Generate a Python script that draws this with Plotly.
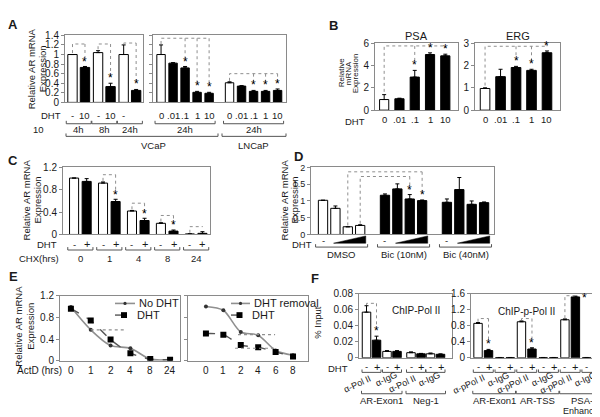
import plotly.graph_objects as go

# ---------------- data ----------------
# A left: VCaP time course
a1_time = ["4h", "8h", "24h"]
a1_dht = ["-", "10", "-", "10", "-", ""]
a1_val = [1.00, 0.73, 1.04, 0.33, 1.00, 0.25]
a1_err = [0.00, 0.02, 0.04, 0.07, 0.20, 0.02]
# A right: 24h dose response
a2_dose = ["0", ".01", ".1", "1", "10"]
a2_vcap_val = [1.00, 0.82, 0.72, 0.21, 0.19]
a2_vcap_err = [0.20, 0.01, 0.03, 0.02, 0.02]
a2_lncap_val = [0.41, 0.34, 0.23, 0.23, 0.25]
a2_lncap_err = [0.02, 0.01, 0.02, 0.02, 0.03]
a_ticks = [0, 0.2, 0.4, 0.6, 0.8, 1.0, 1.2, 1.4]
a_ticktext = ["0", "0.2", "0.4", "0.6", "0.8", "1", "1.2", "1.4"]

# B
b_dose = ["0", ".01", ".1", "1", "10"]
psa_val = [0.95, 1.02, 2.96, 4.98, 4.86]
psa_err = [0.44, 0.05, 0.60, 0.15, 0.15]
erg_val = [0.97, 1.50, 1.91, 1.78, 2.57]
erg_err = [0.03, 0.33, 0.05, 0.05, 0.08]

# C
c_chx = ["0", "1", "4", "8", "24"]
c_minus_val = [1.01, 0.92, 0.42, 0.20, 0.01]
c_minus_err = [0.00, 0.02, 0.01, 0.01, 0.00]
c_plus_val = [0.95, 0.59, 0.25, 0.06, 0.02]
c_plus_err = [0.05, 0.04, 0.04, 0.02, 0.03]

# D
d_groups = ["DMSO", "Bic (10nM)", "Bic (40nM)"]
d_val = [[1.02, 0.78, 0.23, 0.27], [1.17, 1.36, 1.06, 1.01], [0.96, 1.34, 0.90, 0.95]]
d_err = [[0.00, 0.07, 0.00, 0.02], [0.04, 0.15, 0.13, 0.02], [0.10, 0.36, 0.10, 0.02]]

# E
e1_time = ["0", "1", "2", "4", "8", "24"]
e1_nodht = [0.99, 0.57, 0.28, 0.23, 0.03, 0.02]
e1_dht = [0.96, 0.74, 0.39, 0.14, 0.03, 0.02]
e2_time = ["0", "1", "2", "4", "6", "8"]
e2_removal = [1.00, 0.93, 0.53, 0.47, 0.19, 0.10]
e2_dht = [0.50, 0.48, 0.29, 0.25, 0.16, 0.08]
e1_half = [0.57]
e2_half = [0.48, 0.23]

# F
f1_val = [0.057, 0.022, 0.008, 0.008, 0.0064, 0.005, 0.005, 0.0044]
f1_err = [0.008, 0.005, 0.001, 0.001, 0.001, 0.0005, 0.001, 0.0005]
f1_ab = ["α-Pol II", "α-IgG", "α-Pol II", "α-IgG"]
f1_genes = ["AR-Exon1", "Neg-1"]
f2_val = [0.86, 0.18, 0.008, 0.008, 0.90, 0.22, 0.008, 0.008, 0.95, 1.52, 0.008, 0.008]
f2_err = [0.02, 0.03, 0, 0, 0.02, 0.03, 0, 0, 0.02, 0.02, 0, 0]
f2_ab = ["α-pPol II", "α-IgG", "α-pPol II", "α-IgG", "α-pPol II", "α-IgG"]
f2_genes = ["AR-Exon1", "AR-TSS", "PSA-"]

# ---------------- helpers ----------------
W, H = 600, 417
FONT = "Liberation Sans, Arial, Helvetica, sans-serif"
BOX = "#8a8a8a"
DOT = "#8f8f8f"
INK = "#000000"
FS = 9.5

fig = go.Figure()
ann = []
shp = []
_n = [0]


def X(p):
    return p / W


def Y(p):
    return 1 - p / H


def axes(x0, x1, y0, y1, xr, yr, tv, tt=None, tsize=10):
    _n[0] += 1
    s = "" if _n[0] == 1 else str(_n[0])
    xid, yid = "x" + s, "y" + s
    fig.layout["xaxis" + s] = dict(domain=[X(x0), X(x1)], range=xr, anchor=yid, showgrid=False,
                                   zeroline=False, showline=True, mirror=True, linecolor=BOX,
                                   linewidth=1, ticks="", showticklabels=False, fixedrange=True)
    fig.layout["yaxis" + s] = dict(domain=[Y(y1), Y(y0)], range=yr, anchor=xid, showgrid=False,
                                   zeroline=False, showline=True, mirror=True, linecolor=BOX,
                                   linewidth=1, ticks="outside", ticklen=3, tickwidth=1,
                                   tickcolor=BOX, tickvals=tv, ticktext=tt,
                                   showticklabels=tt is not None,
                                   tickfont=dict(size=tsize, family=FONT, color="#1a1a1a"),
                                   fixedrange=True)
    return xid, yid


def T(x, y, s, size=FS, xref="paper", anchor="center", angle=0, bold=False, xshift=0):
    if bold:
        s = "<b>" + s + "</b>"
    ann.append(dict(x=X(x) if xref == "paper" else x, y=Y(y), xref=xref, yref="paper", text=s,
                    showarrow=False, font=dict(size=size, family=FONT, color="#1a1a1a"),
                    xanchor=anchor, yanchor="middle", textangle=angle, xshift=xshift))


def star(xid, yid, x, y):
    ann.append(dict(x=x, y=y, xref=xid, yref=yid, text="*", showarrow=False,
                    font=dict(size=12, family=FONT, color=INK), xanchor="center",
                    yanchor="bottom", yshift=-5))


def bars(xid, yid, xs, vals, errs, colors, width):
    fig.add_trace(go.Bar(x=xs, y=vals, width=width, xaxis=xid, yaxis=yid,
                         marker=dict(color=colors, line=dict(color="black", width=1)),
                         error_y=dict(type="data", array=errs, arrayminus=[0] * len(errs),
                                      symmetric=False, color="black", thickness=1, width=2),
                         showlegend=False, hoverinfo="skip"))


def sig(xid, yid, x0, y0, top, targets):
    xs = [x0, x0, max(t[0] for t in targets), None]
    ys = [y0, top, top, None]
    for xt, yt in targets:
        xs += [xt, xt, None]
        ys += [top, yt, None]
    fig.add_trace(go.Scatter(x=xs, y=ys, xaxis=xid, yaxis=yid, mode="lines",
                             line=dict(color=DOT, width=1, dash="dot"), showlegend=False,
                             hoverinfo="skip"))


def bracket(xref, xa, xb, ypx, h=3):
    xa_ = X(xa) if xref == "paper" else xa
    xb_ = X(xb) if xref == "paper" else xb
    shp.append(dict(type="path", xref=xref, yref="paper",
                    path=f"M{xa_},{Y(ypx - h)} L{xa_},{Y(ypx)} L{xb_},{Y(ypx)} L{xb_},{Y(ypx - h)}",
                    line=dict(color="#555", width=1)))


def ylab(x, y, s, size=FS):
    T(x, y, s, size=size, angle=-90)


# ---------------- panel A ----------------
T(5, 11, "A", size=13, bold=True)
a1_x = [i * 2.05 + j for i in range(3) for j in range(2)]
xa1, ya1 = axes(57, 135, 22, 91, [-0.6, 5.65], [0, 1.4], a_ticks, a_ticktext)
bars(xa1, ya1, a1_x, a1_val, a1_err, ["white", "black"] * 3, 0.75)
for i in range(3):
    w, b = 2 * i, 2 * i + 1
    top = max(1.22, a1_val[w] + a1_err[w] + 0.04)
    sig(xa1, ya1, a1_x[w], a1_val[w] + a1_err[w] + 0.03, top,
        [(a1_x[b], a1_val[b] + a1_err[b] + 0.14)])
    star(xa1, ya1, a1_x[b], a1_val[b] + a1_err[b] + 0.02)
    T((a1_x[w] + a1_x[b]) / 2, 119, a1_time[i], xref=xa1)
    bracket(xa1, a1_x[w] - 0.5, a1_x[b] + 0.5, 113)
for k, t in enumerate(a1_dht):
    T(a1_x[k], 105, t, xref=xa1)
T(43, 105, "DHT")
T(30, 119, "10")
ylab(23, 57, "Relative AR mRNA")
ylab(34, 57, "Expression")

a2_x = [k for k in range(5)] + [5.7 + k for k in range(5)]
xa2, ya2 = axes(145, 278, 22, 91, [-0.67, 10.4], [0, 1.4], a_ticks, None)
bars(xa2, ya2, a2_x, a2_vcap_val + a2_lncap_val, a2_vcap_err + a2_lncap_err,
     (["white"] + ["black"] * 4) * 2, 0.7)
sig(xa2, ya2, a2_x[0], a2_vcap_val[0] + a2_vcap_err[0] + 0.02, 1.34,
    [(a2_x[k], a2_vcap_val[k] + a2_vcap_err[k] + 0.14) for k in (2, 3, 4)])
sig(xa2, ya2, a2_x[5], a2_lncap_val[0] + a2_lncap_err[0] + 0.02, 0.6,
    [(a2_x[5 + k], a2_lncap_val[k] + a2_lncap_err[k] + 0.14) for k in (2, 3, 4)])
for k in (2, 3, 4):
    star(xa2, ya2, a2_x[k], a2_vcap_val[k] + a2_vcap_err[k] + 0.02)
    star(xa2, ya2, a2_x[5 + k], a2_lncap_val[k] + a2_lncap_err[k] + 0.02)
for k in range(5):
    T(a2_x[k], 104, a2_dose[k], xref=xa2)
    T(a2_x[5 + k], 104, a2_dose[k], xref=xa2)
T(a2_x[2], 119, "24h", xref=xa2)
T(a2_x[7], 119, "24h", xref=xa2)
bracket(xa2, a2_x[0] - 0.5, a2_x[4] + 0.5, 113)
bracket(xa2, a2_x[5] - 0.5, a2_x[9] + 0.5, 113)
bracket("paper", 58, 210, 126)
bracket("paper", 214, 278, 126)
T(145, 135, "VCaP")
T(246, 135, "LNCaP")

# ---------------- panel B ----------------
T(325, 12, "B", size=13, bold=True)
b_x = list(range(5))
b_cols = ["white"] + ["black"] * 4
xb1, yb1 = axes(367, 450, 30, 99, [-0.6, 4.83], [0, 6], [0, 2, 4, 6], ["0", "2", "4", "6"])
bars(xb1, yb1, b_x, psa_val, psa_err, b_cols, 0.6)
sig(xb1, yb1, 0, psa_val[0] + psa_err[0] + 0.25, 5.75,
    [(k, psa_val[k] + psa_err[k] + 0.55) for k in (2, 3, 4)])
xb2, yb2 = axes(467, 552, 30, 99, [-0.65, 4.84], [0, 3], [0, 1, 2, 3], ["0", "1", "2", "3"])
bars(xb2, yb2, b_x, erg_val, erg_err, b_cols, 0.62)
sig(xb2, yb2, 0, erg_val[0] + erg_err[0] + 0.1, 2.86,
    [(k, erg_val[k] + erg_err[k] + 0.27) for k in (2, 3, 4)])
for k in (2, 3, 4):
    star(xb1, yb1, k, psa_val[k] + psa_err[k] + 0.1)
    star(xb2, yb2, k, erg_val[k] + erg_err[k] + 0.05)
for k in range(5):
    T(b_x[k], 109, b_dose[k], xref=xb1)
    T(b_x[k], 109, b_dose[k], xref=xb2)
T(347, 111, "DHT")
T(408, 23, "PSA", size=11)
T(510, 23, "ERG", size=11)
ylab(333, 61, "Relative", size=8)
ylab(340, 61, "mRNA", size=8)
ylab(347, 61, "Expression", size=8)

# ---------------- panel C ----------------
T(5, 151, "C", size=13, bold=True)
c_x = [i * 2.3 + j for i in range(5) for j in range(2)]
c_vals, c_errs = [], []
for i in range(5):
    c_vals += [c_minus_val[i], c_plus_val[i]]
    c_errs += [c_minus_err[i], c_plus_err[i]]
xc, yc = axes(55, 202, 158, 227, [-0.88, 10.8], [0, 1.2], [0, 0.4, 0.8, 1.2],
              ["0", "0.4", "0.8", "1.2"])
bars(xc, yc, c_x, c_vals, c_errs, ["white", "black"] * 5, 0.72)
for i in range(1, 5):
    w, b = 2 * i, 2 * i + 1
    sig(xc, yc, c_x[w], c_vals[w] + c_errs[w] + 0.02, c_vals[w] + c_errs[w] + 0.13,
        [(c_x[b], c_vals[b] + c_errs[b] + 0.1)])
    if i < 4:
        star(xc, yc, c_x[b], c_vals[b] + c_errs[b] + 0.01)
for i in range(5):
    T(c_x[2 * i], 237, "-", xref=xc)
    T(c_x[2 * i + 1], 237, "+", xref=xc, size=11)
    bracket(xc, c_x[2 * i] - 0.5, c_x[2 * i + 1] + 0.5, 243)
    T((c_x[2 * i] + c_x[2 * i + 1]) / 2, 252, c_chx[i], xref=xc)
T(39, 237, "DHT")
T(31, 252, "CHX(hrs)")
ylab(18, 192, "Relative AR mRNA")
ylab(29, 192, "Expression")

# ---------------- panel D ----------------
T(290, 147, "D", size=13, bold=True)
d_x = [i * 5 + j for i in range(3) for j in range(4)]
d_vals = [v for g in d_val for v in g]
d_errs = [v for g in d_err for v in g]
xd, yd = axes(303, 486, 158, 227, [-0.97, 13.8], [0, 2], [0, 0.5, 1, 1.5, 2],
              ["0", "0.5", "1", "1.5", "2"], tsize=9)
bars(xd, yd, d_x, d_vals, d_errs, ["white"] * 4 + ["black"] * 8, 0.75)
sig(xd, yd, d_x[2], d_vals[2] + 0.04, 1.87, [(d_x[7], d_vals[7] + d_errs[7] + 0.14)])
sig(xd, yd, d_x[3], d_vals[3] + d_errs[3] + 0.03, 1.73, [(d_x[6], d_vals[6] + d_errs[6] + 0.14)])
star(xd, yd, d_x[6], d_vals[6] + d_errs[6] + 0.02)
star(xd, yd, d_x[7], d_vals[7] + d_errs[7] + 0.02)
for i in range(3):
    b0 = i * 4
    T(d_x[b0], 233, "-", xref=xd)
    xa_, xb_ = d_x[b0 + 1] - 0.15, d_x[b0 + 3] + 0.45
    shp.append(dict(type="path", xref=xd, yref="paper",
                    path=f"M{xa_},{Y(236)} L{xb_},{Y(228.5)} L{xb_},{Y(236)} Z",
                    fillcolor="black", line=dict(color="black", width=0.5)))
    bracket(xd, d_x[b0] - 0.6, d_x[b0 + 3] + 0.6, 240)
    T((d_x[b0] + d_x[b0 + 3]) / 2, 248, d_groups[i], xref=xd)
T(294, 237, "DHT")
ylab(276, 192, "Relative AR mRNA")
ylab(286, 192, "Expression")

# ---------------- panel E ----------------
T(5, 270, "E", size=13, bold=True)
e_ticks = [0, 0.4, 0.8, 1.2]
xe1, ye1 = axes(52, 172, 290, 357, [-0.55, 5.5], [0, 1.2], e_ticks, ["0", "0.4", "0.8", "1.2"])
xe2, ye2 = axes(180, 300, 290, 357, [-1.03, 5.86], [0, 1.2], e_ticks, None)
for xid, yid, s_solid, s_dash in ((xe1, ye1, e1_nodht, e1_dht), (xe2, ye2, e2_removal, e2_dht)):
    xs = list(range(len(s_solid)))
    fig.add_trace(go.Scatter(x=xs, y=s_solid, xaxis=xid, yaxis=yid, mode="lines+markers",
                             line=dict(color="#909090", width=1.6, shape="spline", smoothing=0.8),
                             marker=dict(size=4, color="#333"), showlegend=False, hoverinfo="skip"))
    fig.add_trace(go.Scatter(x=xs, y=s_dash, xaxis=xid, yaxis=yid, mode="lines+markers",
                             line=dict(color="#555", width=1.4, dash="dash", shape="spline",
                                       smoothing=0.8),
                             marker=dict(size=6, color="black", symbol="square"),
                             showlegend=False, hoverinfo="skip"))
shp.append(dict(type="line", xref=xe1, yref=ye1, x0=1, x1=2.75, y0=e1_half[0], y1=e1_half[0],
                line=dict(color=DOT, width=1.2, dash="dot")))
shp.append(dict(type="line", xref=xe2, yref=ye2, x0=1.84, x1=3.97, y0=e2_half[0], y1=e2_half[0],
                line=dict(color=DOT, width=1.2, dash="dot")))
shp.append(dict(type="line", xref=xe2, yref=ye2, x0=1.67, x1=4.0, y0=e2_half[1], y1=e2_half[1],
                line=dict(color=DOT, width=1.2, dash="dot")))
for k in range(6):
    T(k, 367, e1_time[k], xref=xe1, size=10)
    T(k, 367, e2_time[k], xref=xe2, size=10)
T(31, 367, "ActD (hrs)", size=10)
ylab(11, 322, "Relative AR mRNA")
ylab(23, 322, "Expression")


def legend_item(x0, x1, y, label, solid):
    cx = (x0 + x1) / 2
    if solid:
        shp.append(dict(type="line", xref="paper", yref="paper", x0=X(x0), x1=X(x1), y0=Y(y), y1=Y(y),
                        line=dict(color="#909090", width=1.6)))
        shp.append(dict(type="circle", xref="paper", yref="paper", x0=X(cx - 1.6), x1=X(cx + 1.6),
                        y0=Y(y + 1.6), y1=Y(y - 1.6), fillcolor="#333", line=dict(width=0)))
    else:
        shp.append(dict(type="line", xref="paper", yref="paper", x0=X(x0), x1=X(x1), y0=Y(y), y1=Y(y),
                        line=dict(color="#555", width=1.4, dash="dash")))
        shp.append(dict(type="rect", xref="paper", yref="paper", x0=X(cx - 3), x1=X(cx + 3),
                        y0=Y(y + 3), y1=Y(y - 3), fillcolor="black", line=dict(width=0)))
    T(x1 + 1.5, y, label, size=11, anchor="left")


legend_item(107, 127, 298, "No DHT", True)
legend_item(107, 125, 310, "DHT", False)
legend_item(223, 242, 298, "DHT removal", True)
legend_item(223, 240, 310, "DHT", False)

# ---------------- panel F ----------------
T(307, 272, "F", size=13, bold=True)
f1_off = [0, 2.05, 4.45, 6.4]
f1_x = [o + j for o in f1_off for j in range(2)]
xf1, yf1 = axes(351, 444, 288, 354, [-0.75, 8.55], [0, 0.08], [0, 0.02, 0.04, 0.06, 0.08],
                ["0", "0.02", "0.04", "0.06", "0.08"])
bars(xf1, yf1, f1_x, f1_val, f1_err, ["white", "black"] * 4, 0.85)
sig(xf1, yf1, f1_x[0], f1_val[0] + f1_err[0] + 0.001, 0.068,
    [(f1_x[1], f1_val[1] + f1_err[1] + 0.009)])
star(xf1, yf1, f1_x[1], f1_val[1] + f1_err[1] + 0.001)

f2_off = [k * 2.07 for k in range(6)]
f2_x = [o + j for o in f2_off for j in range(2)]
xf2, yf2 = axes(463, 597, 288, 354, [-0.67, 12.1], [0, 1.6], [0, 0.4, 0.8, 1.2, 1.6],
                ["0", "0.4", "0.8", "1.2", "1.6"])
bars(xf2, yf2, f2_x, f2_val, f2_err, ["white", "black"] * 6, 0.8)
for p in (0, 2):
    w, b = 2 * p, 2 * p + 1
    sig(xf2, yf2, f2_x[w], f2_val[w] + f2_err[w] + 0.02, 0.98,
        [(f2_x[b], f2_val[b] + f2_err[b] + 0.17)])
    star(xf2, yf2, f2_x[b], f2_val[b] + f2_err[b] + 0.03)
sig(xf2, yf2, f2_x[8], f2_val[8] + f2_err[8] + 0.02, 1.55, [(f2_x[9], 1.55)])
star(xf2, yf2, f2_x[9] + 0.85, f2_val[9] - 0.12)

T(408, 305, "ChIP-Pol II", size=10)
T(518, 306, "ChIP-p-Pol II", size=10)
ylab(310, 318, "% Input")
T(330, 365, "DHT")
for xid, xs, offs, abl in ((xf1, f1_x, f1_off, f1_ab), (xf2, f2_x, f2_off, f2_ab)):
    for k, o in enumerate(offs):
        T(o, 363, "-", xref=xid)
        T(o + 1, 363, "+", xref=xid, size=11)
        bracket(xid, o - 0.45, o + 1.45, 369)
        isig = "IgG" in abl[k]
        T(o + 0.5, 376 if isig else 381, abl[k], xref=xid, size=9, angle=-25,
          xshift=-6 if isig else -14)
bracket(xf1, f1_off[0] - 0.5, f1_off[1] + 1.5, 391)
bracket(xf1, f1_off[2] - 0.5, f1_off[3] + 1.5, 391)
T((f1_off[0] + f1_off[1] + 1) / 2, 398, f1_genes[0], xref=xf1)
T((f1_off[2] + f1_off[3] + 1) / 2, 398, f1_genes[1], xref=xf1)
for g in range(3):
    bracket(xf2, f2_off[2 * g] - 0.5, f2_off[2 * g + 1] + 1.5, 391)
for g in range(2):
    T((f2_off[2 * g] + f2_off[2 * g + 1] + 1) / 2, 398, f2_genes[g], xref=xf2)
T(574, 398, f2_genes[2], anchor="center")
T(574, 409, "Enhancer", size=9, anchor="center")

fig.update_layout(width=W, height=H, margin=dict(l=0, r=0, t=0, b=0), paper_bgcolor="white",
                  plot_bgcolor="white", barmode="overlay", showlegend=False,
                  annotations=ann, shapes=shp, font=dict(family=FONT, color=INK))
fig.write_html("out.html")
